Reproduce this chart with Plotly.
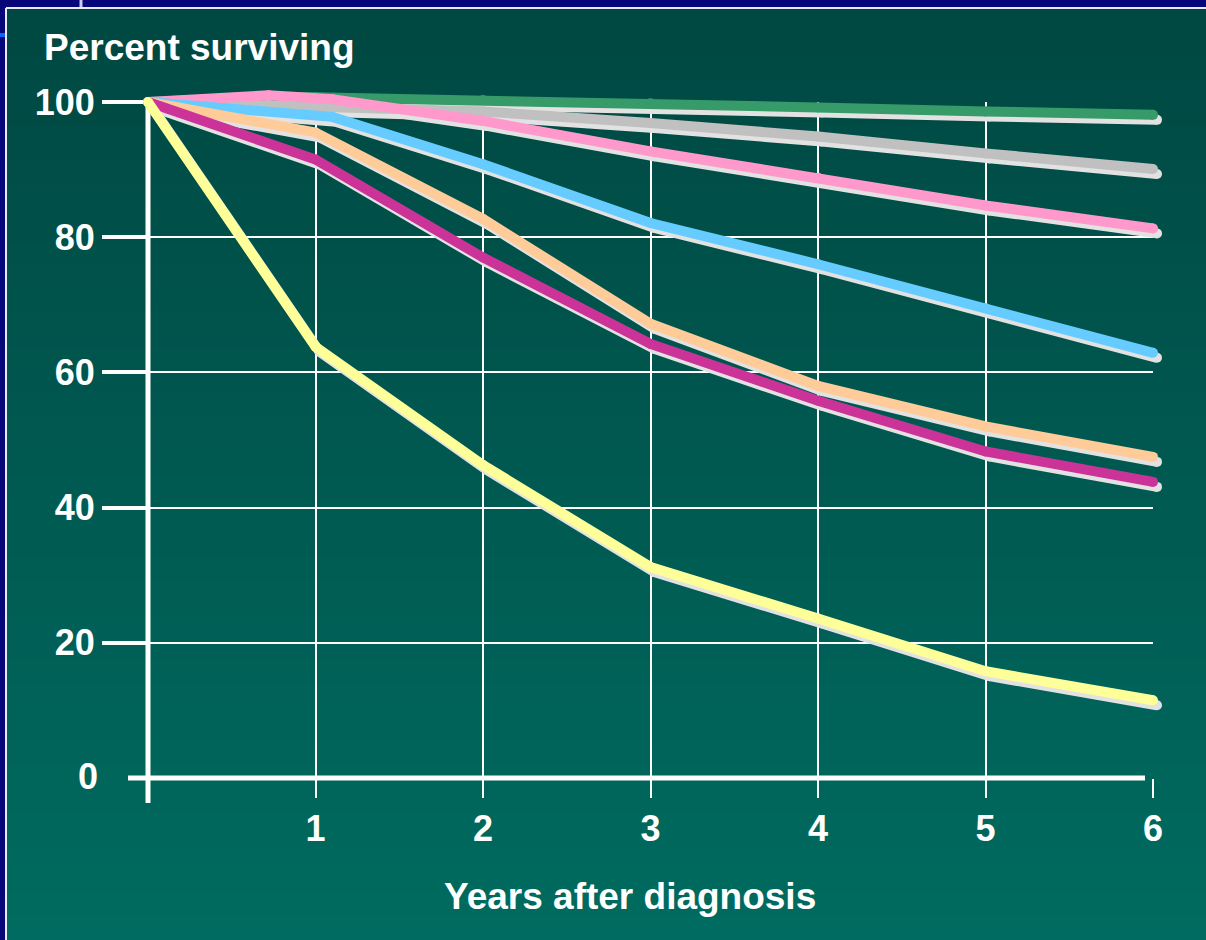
import plotly.graph_objects as go

# ---------------- data ----------------
years_green = [0, 0.72, 1, 2, 3, 4, 5, 6]
green = [100, 100.8, 100.7, 100.3, 99.8, 99.2, 98.6, 98.1]

years_gray = [0, 0.72, 2, 3, 4, 5, 6]
gray = [100, 99.6, 98.6, 96.9, 94.9, 92.4, 90.1]

years_pink = [0, 0.72, 1.1, 2, 3, 4, 5, 6]
pink = [100, 101.0, 100.4, 97.2, 92.7, 88.8, 84.7, 81.3]

years_blue = [0, 1.1, 2, 3, 4, 5, 6]
blue = [100, 97.8, 90.8, 82.1, 76.0, 69.5, 62.9]

years = [0, 1, 2, 3, 4, 5, 6]
peach = [100, 95.5, 82.7, 67.2, 58.0, 52.0, 47.5]
magenta = [100, 91.5, 77.0, 64.2, 55.8, 48.3, 43.8]
yellow = [100, 63.8, 46.3, 31.2, 23.6, 15.8, 11.5]

x_ticks = [1, 2, 3, 4, 5, 6]
y_ticks = [20, 40, 60, 80, 100]
y_zero = 0

series = [
    (years_green, green, "#379a69"),
    (years_gray, gray, "#c0c0c0"),
    (years_pink, pink, "#ff99cc"),
    (years_blue, blue, "#66ccff"),
    (years, peach, "#ffcc99"),
    (years, magenta, "#cc3399"),
    (years, yellow, "#ffff99"),
]

# ---------------- layout geometry ----------------
W, H = 1206, 940
X0PX, X6PX = 148, 1153      # pixel of year 0 and year 6
Y0PX, Y100PX = 778, 102     # pixel of 0 % and 100 %
XR = (-0.25, 6.25)          # extended ranges for trace layers (avoid clipping)
YR = (-3, 104)
SHX, SHY = 4, 5             # shadow offset in px

pxx = (X6PX - X0PX) / 6.0
pxy = (Y0PX - Y100PX) / 100.0


def clamp(v):
    return min(1.0, max(0.0, v))


def xdom(shift=0.0, rng=(0, 6)):
    a = X0PX + rng[0] * pxx + shift
    b = X0PX + rng[1] * pxx + shift
    return [clamp(a / W), clamp(b / W)]


def ydom(shift=0.0, rng=(0, 100)):
    a = Y0PX - rng[0] * pxy + shift   # bottom px
    b = Y0PX - rng[1] * pxy + shift   # top px
    return [clamp(1 - a / H), clamp(1 - b / H)]


FONT = "Liberation Sans, Arial, Helvetica, sans-serif"
TICKFONT = dict(family=FONT, size=36, color="white", weight="bold")

fig = go.Figure()

# axis-holder trace (invisible) on main subplot
fig.add_trace(go.Scatter(x=years, y=yellow, xaxis="x", yaxis="y", mode="lines",
                         line=dict(width=0, color="rgba(0,0,0,0)"),
                         hoverinfo="skip", showlegend=False))

# shadows
for xs, ys, col in series:
    fig.add_trace(go.Scatter(x=xs, y=ys, xaxis="x2", yaxis="y2", mode="lines+markers",
                             line=dict(width=10, color="#e2e2e2"),
                             marker=dict(size=10, color="#e2e2e2"),
                             hoverinfo="skip", showlegend=False))
# coloured lines
for xs, ys, col in series:
    fig.add_trace(go.Scatter(x=xs, y=ys, xaxis="x3", yaxis="y3", mode="lines+markers",
                             line=dict(width=10, color=col),
                             marker=dict(size=10, color=col),
                             showlegend=False))

# ---------------- background shapes ----------------
shapes = []
top_c = (0x00, 0x48, 0x42)
bot_c = (0x00, 0x6b, 0x60)
N = 80
y_top, y_bot = 9, H
for i in range(N):
    t = i / (N - 1)
    c = tuple(round(top_c[k] + (bot_c[k] - top_c[k]) * t) for k in range(3))
    ya = y_top + (y_bot - y_top) * i / N
    yb = min(H, y_top + (y_bot - y_top) * (i + 1) / N + 1)
    shapes.append(dict(type="rect", xref="paper", yref="paper", layer="below",
                       x0=7 / W, x1=1.0, y0=1 - yb / H, y1=1 - ya / H,
                       fillcolor="rgb(%d,%d,%d)" % c, line=dict(width=0)))
# frame lines
shapes.append(dict(type="line", xref="paper", yref="paper", layer="below",
                   x0=6 / W, x1=1.0, y0=1 - 8 / H, y1=1 - 8 / H,
                   line=dict(color="#e8e8ff", width=2)))
shapes.append(dict(type="line", xref="paper", yref="paper", layer="below",
                   x0=6 / W, x1=6 / W, y0=0, y1=1 - 8 / H,
                   line=dict(color="#e8e8ff", width=2)))
shapes.append(dict(type="line", xref="paper", yref="paper", layer="below",
                   x0=81 / W, x1=81 / W, y0=1 - 7 / H, y1=1.0,
                   line=dict(color="#c8c8f0", width=3)))
shapes.append(dict(type="rect", xref="paper", yref="paper", layer="below",
                   x0=0, x1=5 / W, y0=1 - 37 / H, y1=1 - 33 / H,
                   fillcolor="#0a64ff", line=dict(width=0)))
# axis lines
shapes.append(dict(type="line", xref="paper", yref="paper", layer="below",
                   x0=128 / W, x1=1145 / W, y0=1 - Y0PX / H, y1=1 - Y0PX / H,
                   line=dict(color="white", width=5)))
shapes.append(dict(type="line", xref="paper", yref="paper", layer="below",
                   x0=X0PX / W, x1=X0PX / W, y0=1 - 803 / H, y1=1 - 100 / H,
                   line=dict(color="white", width=5)))

hidden = dict(visible=False, showgrid=False, zeroline=False, fixedrange=True,
              automargin=False)

fig.update_layout(
    template="none",
    width=W, height=H,
    autosize=False,
    margin=dict(l=0, r=0, t=0, b=0, pad=0, autoexpand=False),
    paper_bgcolor="#07077a",
    plot_bgcolor="rgba(0,0,0,0)",
    showlegend=False,
    font=dict(family=FONT, color="white"),
    shapes=shapes,
    xaxis=dict(domain=xdom(), range=[0, 6], tickvals=x_ticks,
               ticks="outside", ticklen=19, tickwidth=2, tickcolor="white",
               showgrid=True, gridcolor="white", gridwidth=2,
               zeroline=False, showline=False, ticklabelstandoff=0,
               automargin=False, tickfont=TICKFONT, anchor="y"),
    yaxis=dict(domain=ydom(), range=[0, 100], tickvals=y_ticks,
               ticks="outside", ticklen=45, tickwidth=4, tickcolor="white",
               showgrid=True, gridcolor="white", gridwidth=2,
               zeroline=False, showline=False, automargin=False,
               tickfont=TICKFONT, anchor="x"),
    xaxis2=dict(domain=xdom(SHX, XR), range=list(XR), anchor="y2", **hidden),
    yaxis2=dict(domain=ydom(SHY, YR), range=list(YR), anchor="x2", **hidden),
    xaxis3=dict(domain=xdom(0, XR), range=list(XR), anchor="y3", **hidden),
    yaxis3=dict(domain=ydom(0, YR), range=list(YR), anchor="x3", **hidden),
    annotations=[
        dict(text="Percent surviving", xref="paper", yref="paper",
             x=42 / W, y=1 - 47 / H, xanchor="left", yanchor="middle",
             showarrow=False,
             font=dict(family=FONT, size=37, color="white", weight="bold")),
        dict(text="Years after diagnosis", xref="paper", yref="paper",
             x=630 / W, y=1 - 896 / H, xanchor="center", yanchor="middle",
             showarrow=False,
             font=dict(family=FONT, size=37, color="white", weight="bold")),
        dict(text=str(y_zero), xref="paper", yref="y",
             x=100 / W, y=y_zero, xanchor="right", yanchor="middle",
             showarrow=False, yshift=2, font=TICKFONT),
    ],
)

fig.write_html(
    "out.html",
    config={"displayModeBar": False},
    post_script="document.documentElement.style.margin='0';"
                "document.body.style.margin='0';"
                "document.body.style.padding='0';"
                "document.body.style.overflow='hidden';",
)
